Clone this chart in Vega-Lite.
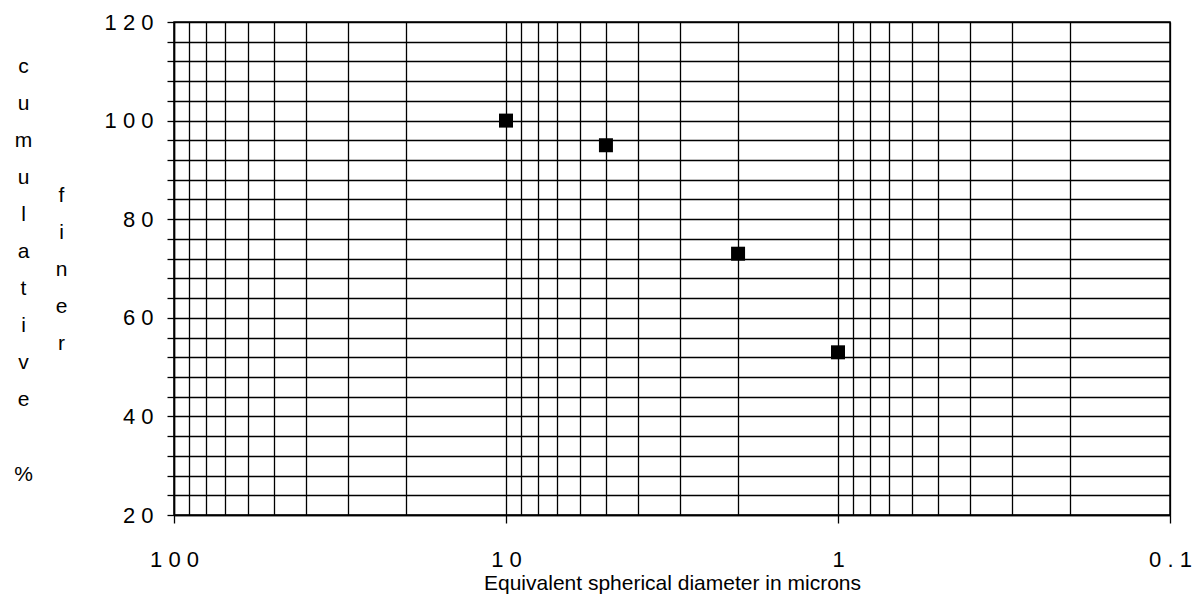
{
  "$schema": "https://vega.github.io/schema/vega-lite/v6.json",
  "width": 996,
  "height": 493,
  "autosize": {"type": "none"},
  "padding": {"left": 174, "top": 22, "right": 26, "bottom": 88},
  "background": "white",
  "config": {
    "font": "Liberation Sans",
    "view": {"stroke": "black", "strokeWidth": 1.5}
  },
  "data": {
    "values": [
      {"d": 10, "p": 100},
      {"d": 5, "p": 95},
      {"d": 2, "p": 73},
      {"d": 1, "p": 53}
    ]
  },
  "encoding": {
    "x": {
      "field": "d",
      "type": "quantitative",
      "scale": {"type": "log", "domain": [0.1, 100], "reverse": true, "nice": false},
      "axis": {
        "values": [100, 90, 80, 70, 60, 50, 40, 30, 20, 10, 9, 8, 7, 6, 5, 4, 3, 2, 1, 0.9, 0.8, 0.7, 0.6, 0.5, 0.4, 0.3, 0.2, 0.1],
        "grid": true,
        "gridColor": "black",
        "gridWidth": 1.3,
        "gridOpacity": 1,
        "domainColor": "black",
        "domainWidth": 1.5,
        "tickColor": "black",
        "tickWidth": 1.3,
        "tickSize": 8,
        "tickOpacity": {"condition": {"test": "datum.value == 100 || datum.value == 10 || datum.value == 1 || datum.value == 0.1", "value": 1}, "value": 0},
        "labelExpr": "(datum.value == 100 || datum.value == 10 || datum.value == 1 || datum.value == 0.1) ? join(split('' + datum.value, ''), ' ') : ''",
        "labelFont": "Liberation Sans",
        "labelFontSize": 22,
        "labelColor": "black",
        "labelPadding": 26,
        "labelBaseline": "top",
        "labelOverlap": false,
        "labelFlush": false,
        "title": "Equivalent spherical diameter in microns",
        "titleFont": "Liberation Sans",
        "titleFontSize": 21,
        "titleFontWeight": "normal",
        "titleColor": "black",
        "titleBaseline": "alphabetic",
        "titleY": 74
      }
    }
  },
  "layer": [
    {
      "mark": {"type": "point", "shape": "square", "filled": true, "size": 196, "color": "black", "opacity": 1},
      "encoding": {
        "y": {
          "field": "p",
          "type": "quantitative",
          "scale": {"domain": [20, 120], "nice": false, "zero": false},
          "axis": {
            "values": [20, 24, 28, 32, 36, 40, 44, 48, 52, 56, 60, 64, 68, 72, 76, 80, 84, 88, 92, 96, 100, 104, 108, 112, 116, 120],
            "grid": true,
            "gridColor": "black",
            "gridWidth": 1.6,
            "gridOpacity": 1,
            "domainColor": "black",
            "domainWidth": 1.5,
            "tickColor": "black",
            "tickWidth": 1.3,
            "tickSize": 7,
            "labelExpr": "datum.value % 20 == 0 ? join(split('' + datum.value, ''), ' ') : ''",
            "labelFont": "Liberation Sans",
            "labelFontSize": 22,
            "labelColor": "black",
            "labelPadding": 14,
            "labelAlign": "right",
            "labelBaseline": "middle",
            "labelOverlap": false,
            "labelFlush": false,
            "title": ["c", "u", "m", "u", "l", "a", "t", "i", "v", "e"],
            "titleFont": "Liberation Sans",
            "titleFontSize": 21,
            "titleFontWeight": "normal",
            "titleColor": "black",
            "titleAngle": 0,
            "titleAlign": "center",
            "titleBaseline": "alphabetic",
            "titleLineHeight": 37,
            "titleX": -151,
            "titleY": 50
          }
        }
      }
    },
    {
      "mark": {"type": "point", "shape": "square", "filled": true, "size": 196, "color": "black", "opacity": 0},
      "encoding": {
        "y": {
          "field": "p",
          "type": "quantitative",
          "scale": {"domain": [20, 120], "nice": false, "zero": false},
          "axis": {
            "orient": "left",
            "labels": false,
            "ticks": false,
            "domain": false,
            "grid": false,
            "title": ["f", "i", "n", "e", "r"],
            "titleFont": "Liberation Sans",
            "titleFontSize": 21,
            "titleFontWeight": "normal",
            "titleColor": "black",
            "titleAngle": 0,
            "titleAlign": "center",
            "titleBaseline": "alphabetic",
            "titleLineHeight": 37,
            "titleX": -113,
            "titleY": 179
          }
        }
      }
    },
    {
      "mark": {"type": "point", "shape": "square", "filled": true, "size": 196, "color": "black", "opacity": 0},
      "encoding": {
        "y": {
          "field": "p",
          "type": "quantitative",
          "scale": {"domain": [20, 120], "nice": false, "zero": false},
          "axis": {
            "orient": "left",
            "labels": false,
            "ticks": false,
            "domain": false,
            "grid": false,
            "title": "%",
            "titleFont": "Liberation Sans",
            "titleFontSize": 21,
            "titleFontWeight": "normal",
            "titleColor": "black",
            "titleAngle": 0,
            "titleAlign": "center",
            "titleBaseline": "alphabetic",
            "titleX": -151,
            "titleY": 458
          }
        }
      }
    }
  ],
  "resolve": {"axis": {"y": "independent"}}
}
